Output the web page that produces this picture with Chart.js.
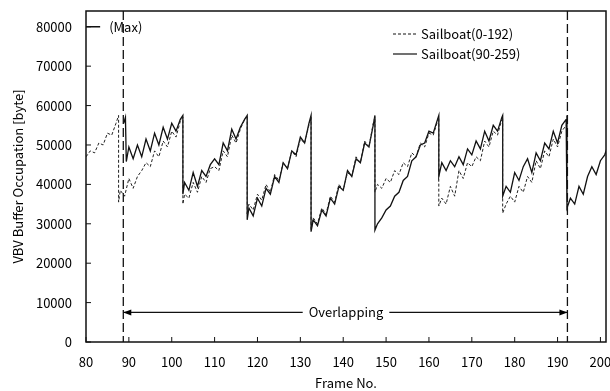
<!DOCTYPE html>
<html>
<head>
<meta charset="utf-8">
<script src="https://cdn.jsdelivr.net/npm/chart.js@4/dist/chart.umd.min.js"></script>
<style>
  body { margin: 0; background: #fff; }
  canvas { display: block; }
</style>
</head>
<body>
<canvas id="chart" width="610" height="391"></canvas>
<script>
// frame numbers (a repeated frame = vertical drop at the I picture)
const dashedFrames = [80,81,82,83,84,85,86,87,87.6,87.6,88,89,90,91,92,93,94,95,96,97,98,99,100,101,102,102.6,102.6,
  103,104,105,106,107,108,109,110,111,112,113,114,115,116,117,117.6,117.6,
  118,119,120,121,122,123,124,125,126,127,128,129,130,131,132,132.5,132.5,
  133,134,135,136,137,138,139,140,141,142,143,144,145,146,147,147.4,147.4,
  148,149,150,151,152,153,154,155,156,157,158,159,160,161,162,162.3,162.3,
  163,164,165,166,167,168,169,170,171,172,173,174,175,176,177,177.2,177.2,
  178,179,180,181,182,183,184,185,186,187,188,189,190,191,192];
const dashedValues = [47000,48500,48000,50500,50000,53000,52500,55500,57500,35500,38500,37000,41500,39000,42000,43500,45500,44500,48500,47000,51000,49500,53500,52000,56000,57000,35000,
  37500,36500,40500,38000,42000,40500,44000,44500,43500,48500,47000,52500,50500,54000,56500,57500,32500,
  35000,33500,37500,36000,40000,38000,42500,41000,45500,44000,48500,47000,51500,50500,55000,57000,28500,
  31500,30000,34000,32500,37000,35500,40000,38500,43000,42000,47000,45500,51000,49500,55500,57000,38000,
  40000,39000,41500,40500,43500,42500,45500,44500,48000,47000,50500,49500,53000,52500,56000,57000,34500,
  36500,35000,39500,37000,43500,41500,45500,44500,47000,46000,51000,49500,53500,52500,56500,57000,32700,
  35000,37000,35500,39500,38000,42000,40500,46000,44000,48500,47000,51500,49500,53500,55000];

const solidFrames = [88.8,89.2,89.4,90,91,92,93,94,95,96,97,98,99,100,101,102,102.6,102.6,
  103,104,105,106,107,108,109,110,111,112,113,114,115,116,117,117.6,117.6,
  118,119,120,121,122,123,124,125,126,127,128,129,130,131,132,132.5,132.5,
  133,134,135,136,137,138,139,140,141,142,143,144,145,146,147,147.4,147.4,
  148,149,150,151,152,153,154,155,156,157,158,159,160,161,162,162.3,162.3,
  163,164,165,166,167,168,169,170,171,172,173,174,175,176,177,177.2,177.2,
  178,179,180,181,182,183,184,185,186,187,188,189,190,191,192,192.2,192.2,
  193,194,195,196,197,198,199,200,201,202];
const solidValues = [55500,57000,45800,49500,46500,50000,47000,51500,48500,53000,50000,54500,51500,55500,53500,56500,57500,37500,
  40500,38500,43000,39500,43500,42000,45000,46500,45000,50500,48500,54000,51500,54500,56500,57500,31000,
  34000,32000,36500,34500,39000,37500,42000,40500,45500,44000,48500,47500,52000,50500,55500,57500,28000,
  31000,29500,33500,32000,36500,35000,39500,38500,43500,42000,46500,45500,50500,49500,55000,57500,28400,
  30000,31500,33500,34500,37000,38000,41000,42000,46000,47000,50000,50500,53500,53000,56500,57500,42000,
  45500,43500,46000,44500,47000,45000,49000,47500,51000,49000,53500,51000,55000,53500,57000,57500,37000,
  39500,38000,43000,41000,44500,46500,43000,48000,46000,50500,49000,53500,50500,55000,56500,57500,34000,
  36500,35000,39500,37500,42000,44500,42500,46000,47500,50500];

const seriesLabels = ['Sailboat(0-192)', 'Sailboat(90-259)'];
const xTicks = [80,90,100,110,120,130,140,150,160,170,180,190,200];
const yTicks = [0,10000,20000,30000,40000,50000,60000,70000,80000];
const maxLevel = 80000;
const overlapStart = 88.7, overlapEnd = 192.3, overlapLevel = 7500;

const FONT = '"Noto Sans CJK JP", "Noto Sans", sans-serif';
Chart.defaults.font.family = FONT;
Chart.defaults.font.size = 13;
Chart.defaults.color = '#000';

const toPoints = (fs, vs) => fs.map((f, i) => ({ x: f, y: vs[i] }));

function line(ctx, x1, y1, x2, y2) {
  ctx.beginPath(); ctx.moveTo(x1, y1); ctx.lineTo(x2, y2); ctx.stroke();
}

const annotations = {
  id: 'annotations',
  afterDatasetsDraw(chart) {
    const { ctx, chartArea: a, scales: { x, y } } = chart;
    ctx.save();
    ctx.strokeStyle = '#111';
    ctx.fillStyle = '#000';

    // frame
    ctx.lineWidth = 1.5;
    ctx.strokeRect(a.left, a.top, a.right - a.left, a.bottom - a.top);

    // ticks pointing inside
    ctx.lineWidth = 1;
    yTicks.forEach(v => { const py = y.getPixelForValue(v); line(ctx, a.left, py, a.left + 5, py); });
    xTicks.forEach(v => { const px = x.getPixelForValue(v); line(ctx, px, a.bottom, px, a.bottom - 5); });

    // overlap borders
    ctx.lineWidth = 1.3;
    ctx.setLineDash([9, 4]);
    [overlapStart, overlapEnd].forEach(f => {
      const px = x.getPixelForValue(f);
      line(ctx, px, a.top, px, a.bottom);
    });
    ctx.setLineDash([]);

    // max line
    const my = y.getPixelForValue(maxLevel);
    ctx.lineWidth = 1.5;
    line(ctx, a.left, my, x.getPixelForValue(83.3), my);
    ctx.font = '13px ' + FONT;
    ctx.textBaseline = 'middle';
    ctx.textAlign = 'left';
    ctx.fillText('(Max)', x.getPixelForValue(85.4), my);

    // overlapping arrow
    const ay = y.getPixelForValue(overlapLevel);
    const x1 = x.getPixelForValue(overlapStart), x2 = x.getPixelForValue(overlapEnd);
    const cx = (a.left + a.right) / 2;
    const label = 'Overlapping';
    const tw = ctx.measureText(label).width;
    ctx.lineWidth = 1.2;
    line(ctx, x1, ay, cx - tw / 2 - 6, ay);
    line(ctx, cx + tw / 2 + 6, ay, x2, ay);
    ctx.beginPath();
    ctx.moveTo(x1, ay); ctx.lineTo(x1 + 8, ay - 3); ctx.lineTo(x1 + 8, ay + 3); ctx.closePath();
    ctx.moveTo(x2, ay); ctx.lineTo(x2 - 8, ay - 3); ctx.lineTo(x2 - 8, ay + 3); ctx.closePath();
    ctx.fill();
    ctx.textAlign = 'center';
    ctx.fillText(label, cx, ay);

    // legend
    ctx.textAlign = 'left';
    const lx = a.right - 213, ly = a.top + 23;
    ctx.lineWidth = 1;
    ctx.setLineDash([3, 2]);
    line(ctx, lx, ly, lx + 24, ly);
    ctx.setLineDash([]);
    ctx.lineWidth = 1.2;
    line(ctx, lx, ly + 20, lx + 24, ly + 20);
    ctx.fillText(seriesLabels[0], lx + 28, ly);
    ctx.fillText(seriesLabels[1], lx + 28, ly + 20);
    ctx.restore();
  }
};

new Chart(document.getElementById('chart'), {
  type: 'line',
  data: {
    datasets: [
      {
        label: seriesLabels[0],
        data: toPoints(dashedFrames, dashedValues),
        borderColor: '#222',
        borderWidth: 1,
        borderDash: [3, 2],
        pointRadius: 0,
        fill: false
      },
      {
        label: seriesLabels[1],
        data: toPoints(solidFrames, solidValues),
        borderColor: '#111',
        borderWidth: 1.3,
        pointRadius: 0,
        fill: false
      }
    ]
  },
  options: {
    responsive: false,
    animation: false,
    layout: { padding: { top: 11, right: 4, left: 0, bottom: 0 } },
    plugins: { legend: { display: false }, tooltip: { enabled: false } },
    scales: {
      x: {
        type: 'linear',
        min: 80,
        max: 201.3,
        grid: { display: false, drawTicks: false },
        border: { display: false },
        afterBuildTicks: s => { s.ticks = xTicks.map(v => ({ value: v })); },
        afterFit: s => { s.height = 49; s.paddingLeft = 0; s.paddingRight = 0; },
        ticks: { padding: 12, maxRotation: 0, callback: v => String(v) },
        title: { display: true, text: 'Frame No.', padding: { top: 0, bottom: 0 } }
      },
      y: {
        min: 0,
        max: 84000,
        grid: { display: false, drawTicks: false },
        border: { display: false },
        afterBuildTicks: s => { s.ticks = yTicks.map(v => ({ value: v })); },
        afterFit: s => { s.width = 86; s.paddingTop = 0; s.paddingBottom = 0; },
        ticks: { padding: 14, callback: v => String(v) },
        title: { display: true, text: 'VBV Buffer Occupation [byte]', padding: { top: 10, bottom: 0 } }
      }
    }
  },
  plugins: [annotations]
});
</script>
</body>
</html>
